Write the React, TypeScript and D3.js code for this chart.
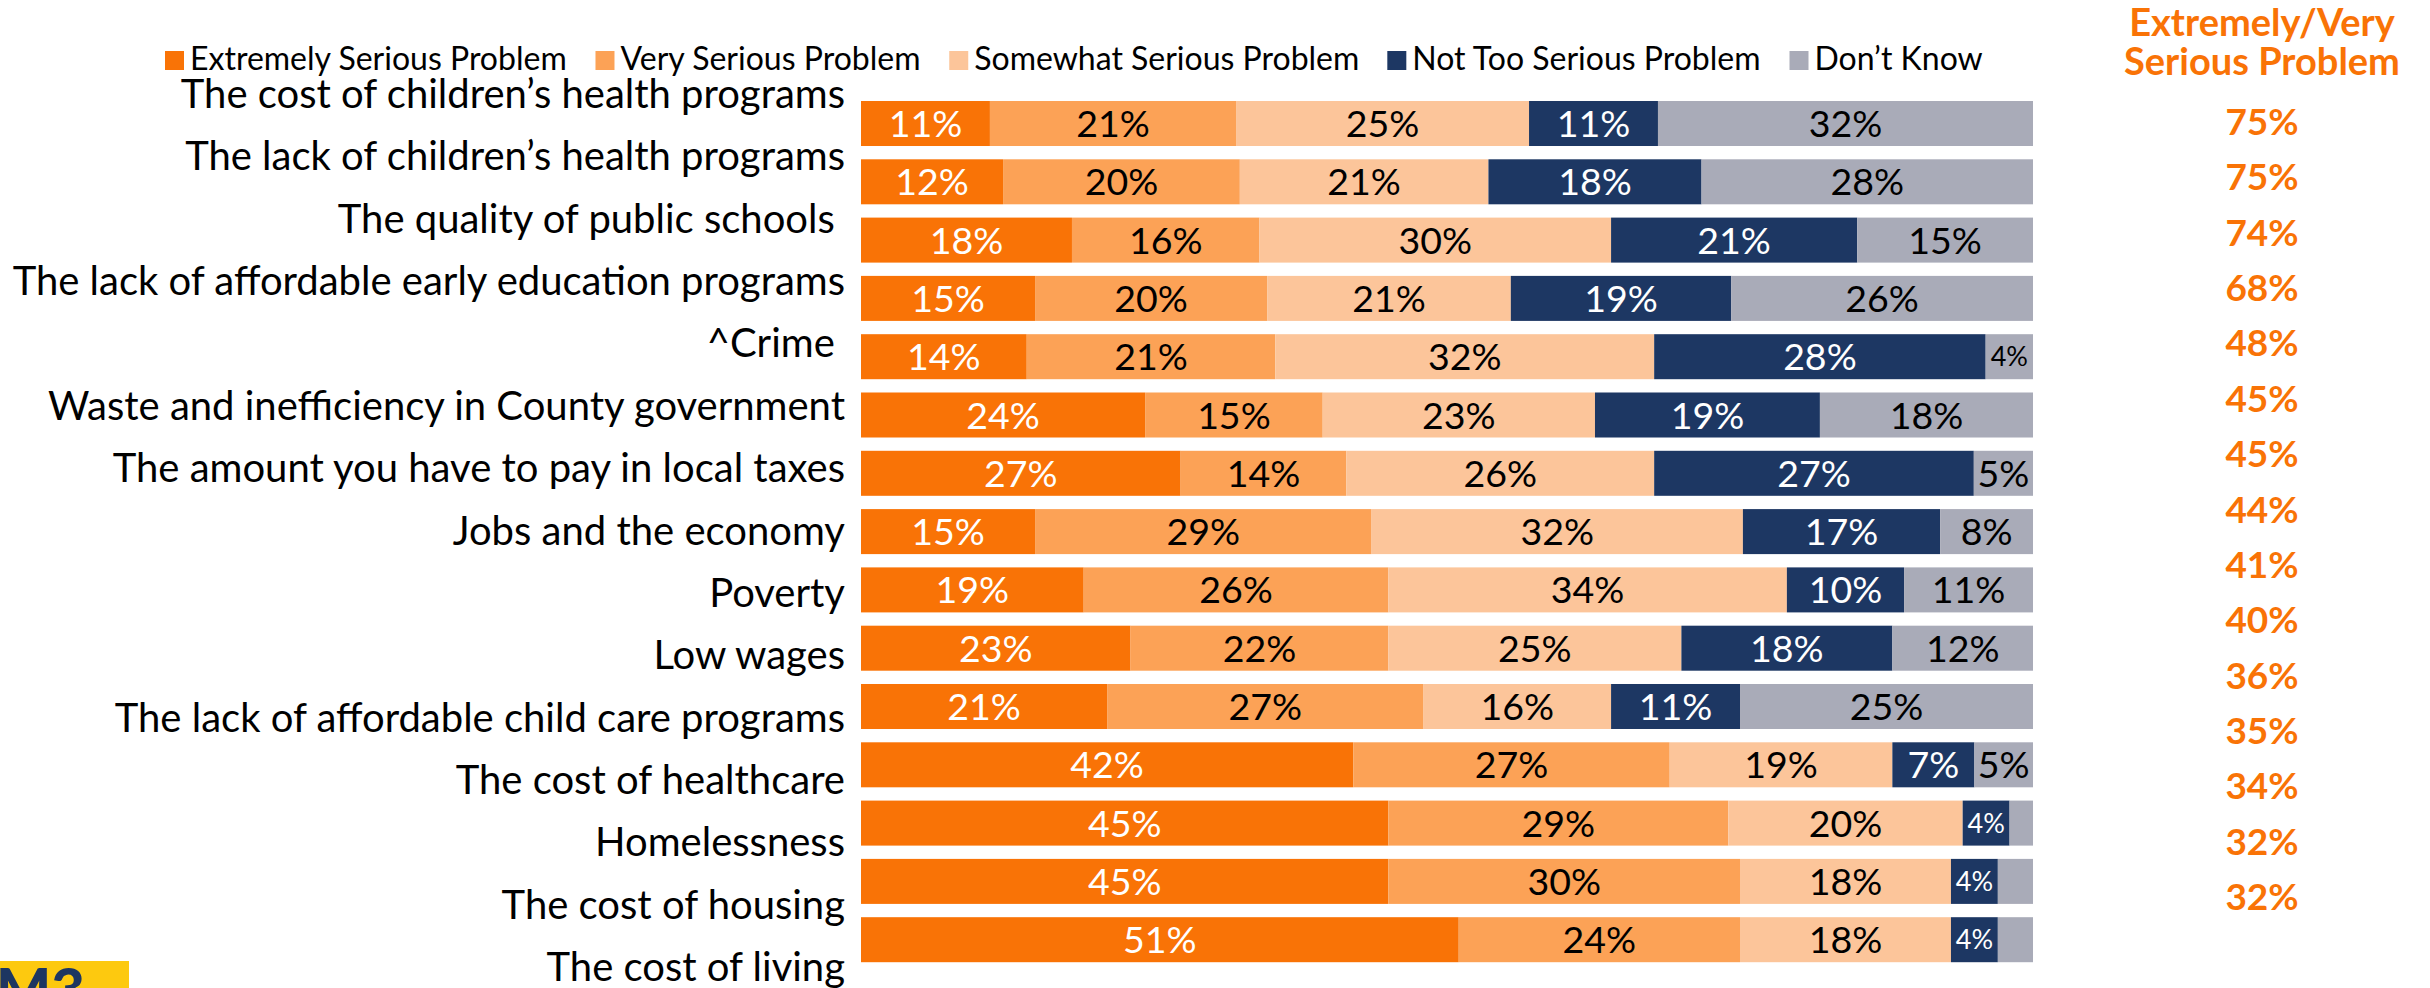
import * as React from 'react';
import {scaleBand, scaleLinear, scalePoint, stack, stackOffsetExpand} from 'd3';

const categories = [
    'The cost of children’s health programs',
    'The lack of children’s health programs',
    'The quality of public schools ',
    'The lack of affordable early education programs',
    '^Crime ',
    'Waste and inefficiency in County government',
    'The amount you have to pay in local taxes',
    'Jobs and the economy',
    'Poverty',
    'Low wages',
    'The lack of affordable child care programs',
    'The cost of healthcare',
    'Homelessness',
    'The cost of housing',
    'The cost of living',
];

const extremely = [11, 12, 18, 15, 14, 24, 27, 15, 19, 23, 21, 42, 45, 45, 51];
const very = [21, 20, 16, 20, 21, 15, 14, 29, 26, 22, 27, 27, 29, 30, 24];
const somewhat = [25, 21, 30, 21, 32, 23, 26, 32, 34, 25, 16, 19, 20, 18, 18];
const notToo = [11, 18, 21, 19, 28, 19, 27, 17, 10, 18, 11, 7, 4, 4, 4];
const dontKnow = [32, 28, 15, 26, 4, 18, 5, 8, 11, 12, 25, 5, 2, 3, 3];

const seriesNames = [
    'Extremely Serious Problem',
    'Very Serious Problem',
    'Somewhat Serious Problem',
    'Not Too Serious Problem',
    'Don’t Know',
];
const seriesColors = ['#F97306', '#FCA256', '#FCC59A', '#1D3763', '#A9ABB8'];
const seriesText = ['#ffffff', '#000000', '#000000', '#ffffff', '#000000'];

// right hand column, as printed (it runs in its own order)
const combinedTitle = ['Extremely/Very', 'Serious Problem'];
const combinedValues = ['75%', '75%', '74%', '68%', '48%', '45%', '45%', '44%', '41%', '40%', '36%', '35%', '34%', '32%', '32%'];

const width = 2430;
const height = 988;
const font = 'Lato, "Open Sans", sans-serif';
const orange = '#F97306';

const rows = categories.map((c, i) => ({
    category: c,
    s0: extremely[i],
    s1: very[i],
    s2: somewhat[i],
    s3: notToo[i],
    s4: dontKnow[i],
}));
const keys = ['s0', 's1', 's2', 's3', 's4'];
const stacked = stack<any>().keys(keys).offset(stackOffsetExpand)(rows);

const xScale = scaleLinear().domain([0, 1]).range([861, 2033]);
const yScale = scaleBand()
    .domain(categories)
    .range([94.35, 968.85])
    .paddingInner(0.228)
    .paddingOuter(0.114);
const labelScale = scalePoint().domain(categories).range([108, 981]);
const rightScale = scalePoint()
    .domain(combinedValues.map((d, i) => i.toString()))
    .range([135, 910]);

let ctx: CanvasRenderingContext2D | null = null;
function measure(text: string, size: number) {
    if (!ctx) ctx = document.createElement('canvas').getContext('2d');
    if (!ctx) return text.length * size * 0.5;
    ctx.font = `${size}px ${font}`;
    return ctx.measureText(text).width;
}

const legendSize = 32;
const legendX = 165;
const legendGap = 28;

export default function App() {
    let lx = legendX;
    const legend = seriesNames.map((name, i) => {
        const x = lx;
        lx += 19 + 6 + measure(name, legendSize) + legendGap;
        return (
            <g key={name} transform={`translate(${x},0)`}>
                <rect x={0} y={51} width={19} height={19} fill={seriesColors[i]}/>
                <text x={25} y={70} fontSize={legendSize}>{name}</text>
            </g>
        );
    });

    const bars = stacked.map((layer, si) =>
        layer.map((d, i) => {
            const value = rows[i][keys[si] as 's0'];
            const x0 = xScale(d[0]);
            const x1 = xScale(d[1]);
            const y = yScale(categories[i]) ?? 0;
            const small = value <= 4;
            return (
                <g key={`${si}-${i}`}>
                    <rect x={x0} y={y} width={x1 - x0} height={yScale.bandwidth()} fill={seriesColors[si]}/>
                    {value >= 4 &&
                        <text
                            x={(x0 + x1) / 2}
                            y={y + yScale.bandwidth() / 2}
                            dy="0.36em"
                            textAnchor="middle"
                            fontSize={small ? 27 : 37.5}
                            fill={seriesText[si]}
                        >{value}%</text>}
                </g>
            );
        })
    );

    return (
        <svg
            width={width}
            height={height}
            style={{position: 'absolute', left: 0, top: 0, background: '#fff'}}
            fontFamily={font}
        >
            {legend}
            {categories.map(c =>
                <text key={c} x={845} y={labelScale(c)} textAnchor="end" fontSize={40} style={{whiteSpace: 'pre'}}>
                    {c}
                </text>
            )}
            {bars}
            <g fill={orange} fontWeight={700} textAnchor="middle">
                <text x={2262} y={36} fontSize={38}>{combinedTitle[0]}</text>
                <text x={2262} y={75} fontSize={38}>{combinedTitle[1]}</text>
                {combinedValues.map((v, i) =>
                    <text key={i} x={2262} y={rightScale(i.toString())} fontSize={37}>{v}</text>
                )}
            </g>
            <rect x={0} y={961} width={129} height={27} fill="#FDC90F"/>
            <text x={-4} y={1010} fontSize={58} fontWeight={900} fill="#1D3661">M3</text>
        </svg>
    );
}
